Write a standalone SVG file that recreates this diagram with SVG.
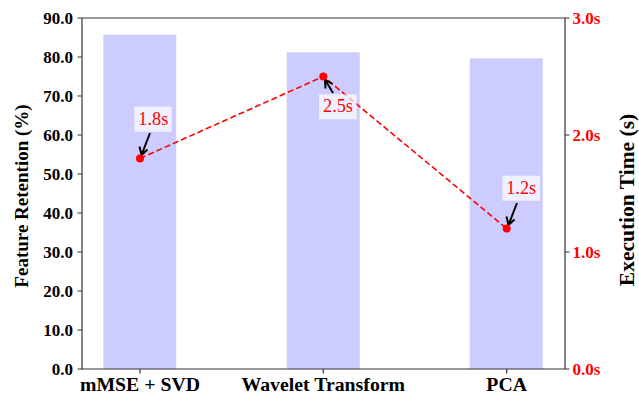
<svg xmlns="http://www.w3.org/2000/svg" width="639" height="397" viewBox="0 0 639 397">
<defs>
<style>
.tick{font-weight:bold;font-size:17px;}
.yl{fill:#000;text-anchor:end;}
.yr{fill:#ff0000;text-anchor:start;}
.xl{font-weight:bold;font-size:19.8px;text-anchor:middle;fill:#000;}
.lab{font-weight:bold;text-anchor:middle;fill:#000;}
.ann{font-size:18.3px;fill:#ff0000;text-anchor:middle;}
.box{fill:#ffffff;fill-opacity:0.7;stroke:none;}
.bar{fill:#ccccff;}
.spine{stroke:#333;stroke-width:1.2;fill:none;}
.tk{stroke:#333;stroke-width:1.2;}
.arr{stroke:#000;stroke-width:2;fill:none;}
</style>
</defs>
<rect width="639" height="397" fill="#fff"/>
<g id="bars">
<rect class="bar" x="103.3" y="34.7" width="73" height="334.3"/>
<rect class="bar" x="286.7" y="52.3" width="73" height="316.7"/>
<rect class="bar" x="469.7" y="58.3" width="73" height="310.7"/>
</g>
<g id="axes" font-family="Liberation Serif, serif">
<path class="spine" d="M82,18 H565 M82,18 V369 H565 V18"/>
<g class="tk">
<path d="M82,369 h-4.5 M82,330 h-4.5 M82,291 h-4.5 M82,252 h-4.5 M82,213 h-4.5 M82,174 h-4.5 M82,135 h-4.5 M82,96 h-4.5 M82,57 h-4.5 M82,18 h-4.5"/>
<path d="M565,369 h4.5 M565,252 h4.5 M565,135 h4.5 M565,18 h4.5"/>
<path d="M140,369 v4.5 M323.3,369 v4.5 M506.7,369 v4.5"/>
</g>
<g class="tick yl">
<text x="73" y="374.5">0.0</text>
<text x="73" y="335.5">10.0</text>
<text x="73" y="296.5">20.0</text>
<text x="73" y="257.5">30.0</text>
<text x="73" y="218.5">40.0</text>
<text x="73" y="179.5">50.0</text>
<text x="73" y="140.5">60.0</text>
<text x="73" y="101.5">70.0</text>
<text x="73" y="62.5">80.0</text>
<text x="73" y="23.5">90.0</text>
</g>
<g class="tick yr">
<text x="572.5" y="374.5">0.0s</text>
<text x="572.5" y="257.5">1.0s</text>
<text x="572.5" y="140.5">2.0s</text>
<text x="572.5" y="23.5">3.0s</text>
</g>
<g class="xl">
<text x="140" y="390.5">mMSE + SVD</text>
<text x="323.3" y="390.5">Wavelet Transform</text>
<text x="506.7" y="390.5">PCA</text>
</g>
<text class="lab" font-size="19" transform="translate(28.3,196) rotate(-90)">Feature Retention (%)</text>
<text class="lab" font-size="21.5" transform="translate(634.3,200) rotate(-90)">Execution Time (s)</text>
</g>
<g id="connectors">
<polyline points="140,158.4 323.3,76.5 506.7,228.6" fill="none" stroke="#ff0000" stroke-width="1.6" stroke-dasharray="6 3"/>
<path class="arr" d="M150,133 L141.5,155 M139.5,146.5 L141.5,155 L147.5,149.5"/>
<path class="arr" d="M333,93 L325,79.5 M325.5,88.5 L325,79.5 L332.5,84"/>
<path class="arr" d="M517,203 L508.5,225 M506.5,216.5 L508.5,225 L514.5,219.5"/>
</g>
<g id="points" fill="#ff0000">
<circle cx="140" cy="158.4" r="4"/>
<circle cx="323.3" cy="76.5" r="4"/>
<circle cx="506.7" cy="228.6" r="4"/>
</g>
<g id="annotations" font-family="Liberation Serif, serif">
<g id="ann-1">
<rect class="box" x="134.3" y="106.7" width="37.4" height="25"/>
<text class="ann" x="153.3" y="124.5">1.8s</text>
</g>
<g id="ann-2">
<rect class="box" x="319" y="94.3" width="37.7" height="25"/>
<text class="ann" x="338" y="112.2">2.5s</text>
</g>
<g id="ann-3">
<rect class="box" x="502.3" y="175.7" width="37.7" height="25"/>
<text class="ann" x="521.2" y="193.6">1.2s</text>
</g>
</g>
</svg>
